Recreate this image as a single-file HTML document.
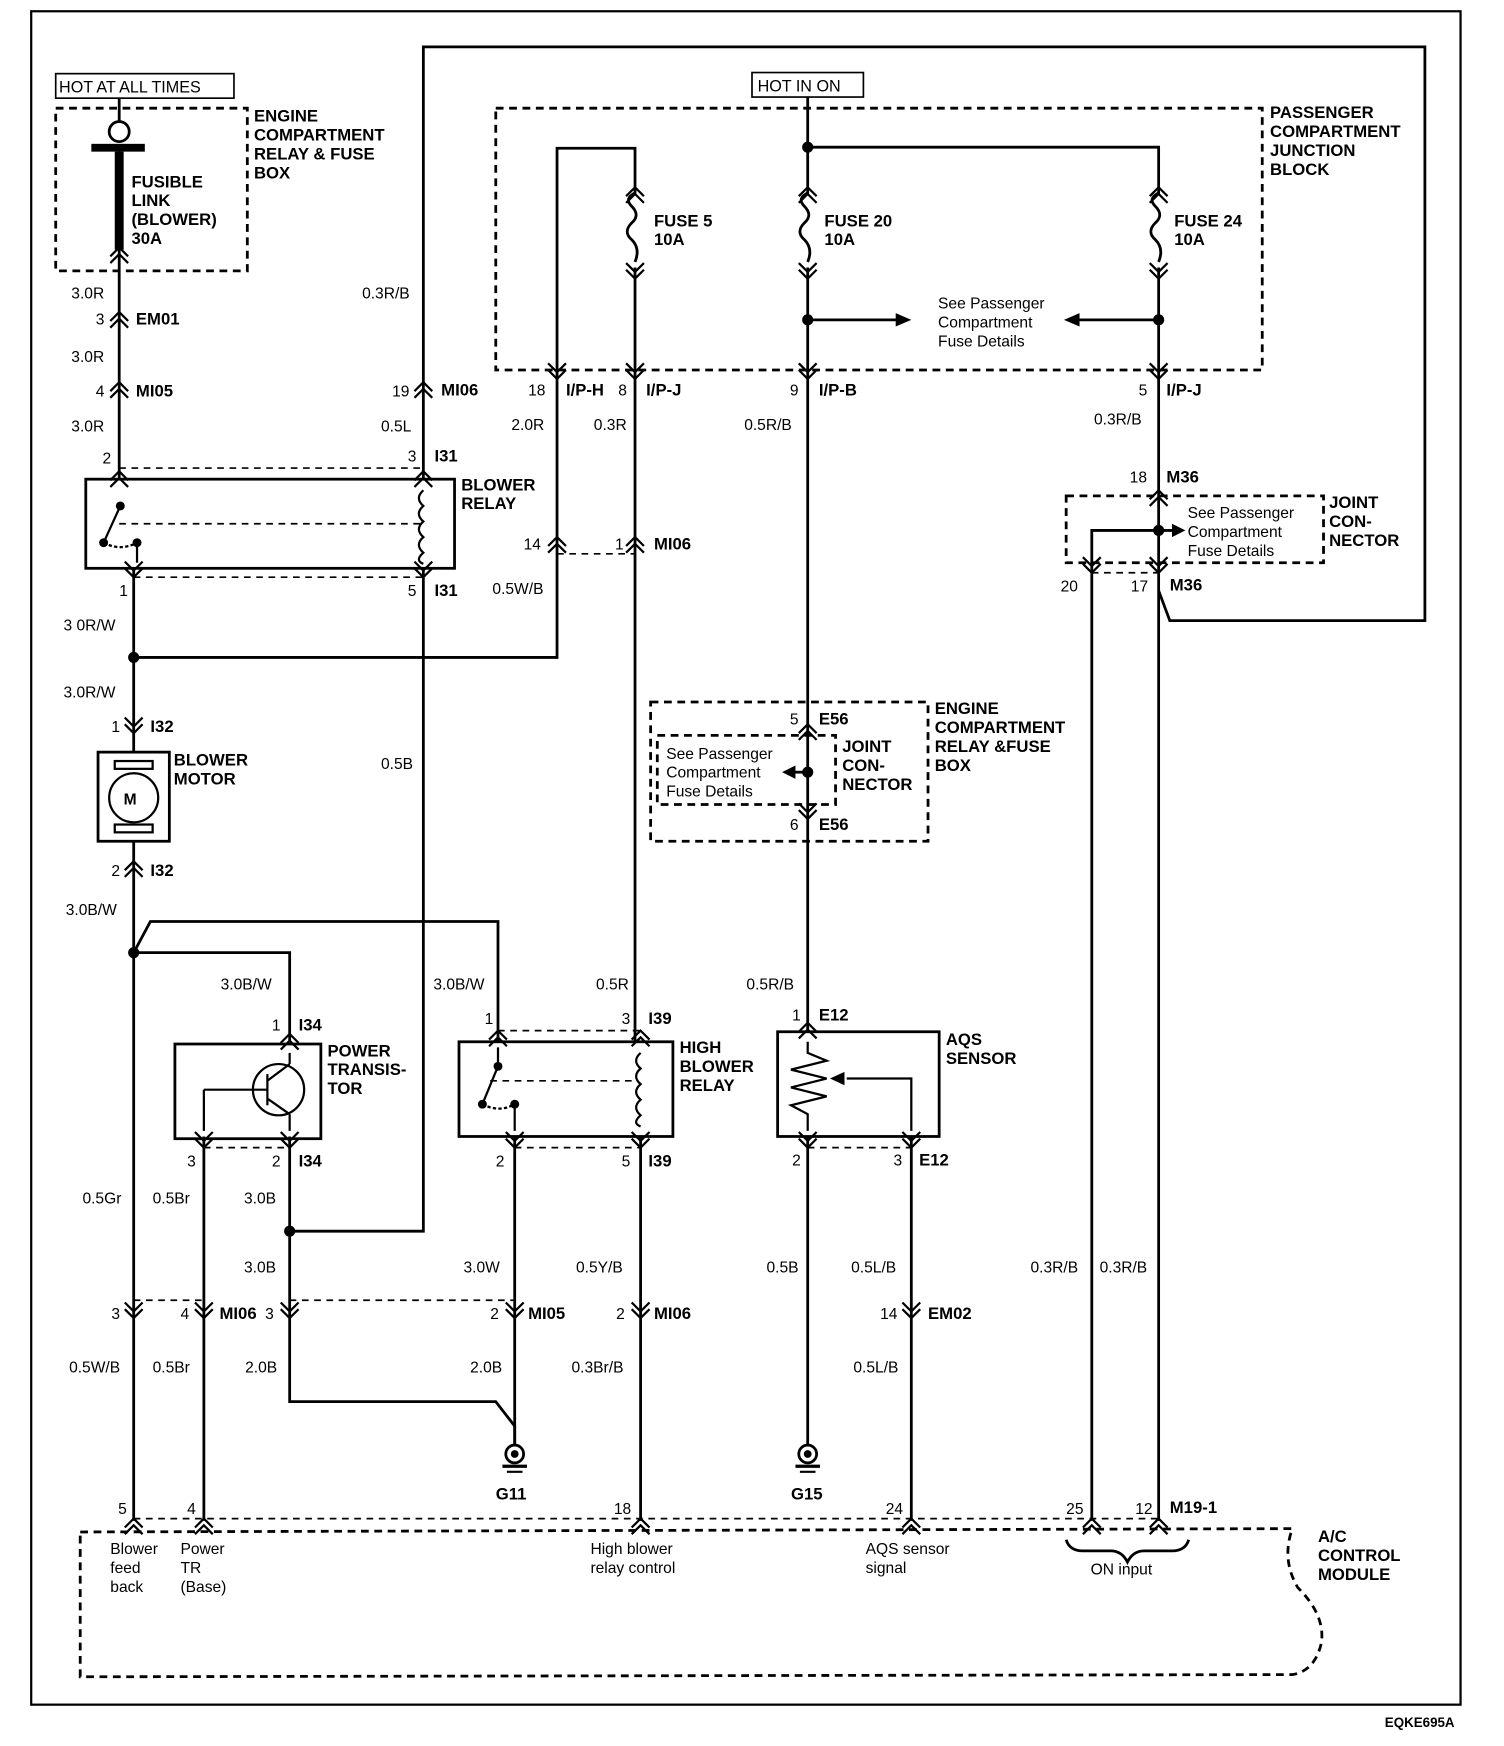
<!DOCTYPE html>
<html><head><meta charset="utf-8"><style>
html,body{margin:0;padding:0;background:#fff}
svg{display:block}
text{font-family:"Liberation Sans",Arial,sans-serif;fill:#000}
.b{font-weight:bold;font-size:15px}
.w{font-size:14px}
.s{font-size:14.5px}
</style></head><body>
<svg width="1504" height="1746" viewBox="0 0 1350 1567" xmlns="http://www.w3.org/2000/svg">
<defs>
<g id="u" fill="none" stroke="#000" stroke-width="2"><polyline points="-8,8 0,0 8,8"/><polyline points="-8,14 0,6 8,14"/></g>
<g id="d" fill="none" stroke="#000" stroke-width="2"><polyline points="-8,-8 0,0 8,-8"/><polyline points="-8,-14 0,-6 8,-14"/></g>
<g id="gnd"><circle r="8" fill="none" stroke="#000" stroke-width="2.5"/><circle r="3.5" fill="#000"/><line x1="-11" y1="11" x2="11" y2="11" stroke="#000" stroke-width="3"/><line x1="-7" y1="16" x2="7" y2="16" stroke="#000" stroke-width="2"/></g>
</defs>
<rect width="1350" height="1567" fill="#fff"/>
<g fill="none" stroke="#000" stroke-width="2">
<rect x="28" y="10" width="1283" height="1520"/>
<!-- top boxes -->
<rect x="50" y="66" width="160" height="22" stroke-width="1.5"/>
<rect x="675" y="65" width="100" height="22" stroke-width="1.5"/>
</g>
<text class="s" x="53" y="83">HOT AT ALL TIMES</text>
<text class="s" x="680" y="82">HOT IN ON</text>
<g fill="none" stroke="#000" stroke-width="2.5" stroke-dasharray="7,5">
<rect x="50" y="97" width="172" height="146"/>
<rect x="445" y="97" width="688" height="235"/>
<rect x="957" y="445" width="231" height="60"/>
<rect x="584" y="630" width="249" height="125"/>
<rect x="590" y="660" width="160" height="62"/>
<path d="M72,1375 L1160,1372 Q1150,1400 1165,1425 Q1190,1450 1186,1475 Q1180,1500 1160,1503 L72,1505 Z"/>
</g>
<!-- inner dashed links -->
<g fill="none" stroke="#000" stroke-width="1.5" stroke-dasharray="6,5">
<line x1="107" y1="420" x2="380" y2="420"/><line x1="120" y1="518" x2="380" y2="518"/>
<line x1="107" y1="470" x2="378" y2="470"/>
<line x1="500" y1="497" x2="570" y2="497"/>
<line x1="447" y1="925" x2="575" y2="925"/><line x1="462" y1="1030" x2="575" y2="1030"/>
<line x1="440" y1="970" x2="568" y2="970"/>
<line x1="183" y1="1030" x2="260" y2="1030"/><line x1="725" y1="1030" x2="818" y2="1030"/>
<line x1="120" y1="1167" x2="183" y2="1167"/><line x1="260" y1="1167" x2="462" y2="1167"/>
<line x1="120" y1="1363" x2="1040" y2="1363"/>
<line x1="980" y1="514" x2="1040" y2="514"/>
</g>
<!-- wires -->
<g fill="none" stroke="#000" stroke-width="2.5">
<line x1="107" y1="88" x2="107" y2="110"/>
<line x1="107" y1="135" x2="107" y2="430"/>
<line x1="120" y1="510" x2="120" y2="675"/>
<line x1="120" y1="755" x2="120" y2="1365"/>
<polyline points="120,590 500,590 500,133 570,133 570,175"/>
<line x1="570" y1="240" x2="570" y2="935"/>
<line x1="575" y1="1020" x2="575" y2="1365"/>
<polyline points="380,430 380,42 1279,42 1279,557 1050,557 1040,530"/>
<polyline points="380,510 380,1105 260,1105"/>
<polyline points="120,855 260,855 260,935"/>
<polyline points="120,855 135,827 447,827 447,935"/>
<polyline points="260,1020 260,1258 445,1258 462,1280 462,1298"/>
<line x1="462" y1="1020" x2="462" y2="1298"/>
<line x1="183" y1="1020" x2="183" y2="1365"/>
<line x1="725" y1="87" x2="725" y2="175"/>
<polyline points="725,132 1040,132 1040,175"/>
<line x1="725" y1="240" x2="725" y2="926"/>
<line x1="725" y1="1020" x2="725" y2="1298"/>
<line x1="1040" y1="240" x2="1040" y2="1365"/>
<line x1="818" y1="1020" x2="818" y2="1365"/>
<polyline points="1040,476 980,476 980,1365"/>
<line x1="725" y1="287" x2="805" y2="287"/><line x1="1040" y1="287" x2="968" y2="287"/>
<line x1="725" y1="693" x2="712" y2="693"/>
<line x1="1040" y1="476" x2="1060" y2="476"/>
<!-- fuses -->
<path d="M570,178 q-10,5 -3,12 q8,8 0,15 q-8,8 0,15 q8,8 3,20" transform="translate(0,-5)"/>
<path d="M725,178 q-10,5 -3,12 q8,8 0,15 q-8,8 0,15 q8,8 3,20" transform="translate(0,-5)"/>
<path d="M1040,178 q-10,5 -3,12 q8,8 0,15 q-8,8 0,15 q8,8 3,20" transform="translate(0,-5)"/>
<!-- fusible link -->
<circle cx="107" cy="118" r="9"/>
<!-- boxes -->
<rect x="77" y="430" width="331" height="80"/>
<rect x="88" y="675" width="64" height="80"/>
<rect x="157" y="937" width="131" height="85"/>
<rect x="412" y="935" width="192" height="85"/>
<rect x="698" y="926" width="145" height="94"/>
<!-- brace -->
<path d="M957,1382 q3,10 15,10 h25 q10,0 15,10 q5,-10 15,-10 h25 q12,0 15,-10"/>
</g>
<!-- arrowheads -->
<polygon points="818,287 804,281 804,293"/><polygon points="955,287 969,281 969,293"/>
<polygon points="702,693 714,687 714,699"/><polygon points="1064,476 1052,470 1052,482"/>
<!-- fusible link bar -->
<rect x="82" y="129" width="48" height="7"/>
<rect x="103" y="136" width="8" height="88"/>
<!-- dots -->
<g fill="#000"><circle cx="120" cy="590" r="5"/><circle cx="120" cy="855" r="5"/><circle cx="260" cy="1105" r="5"/>
<circle cx="725" cy="132" r="5"/><circle cx="725" cy="287" r="5"/><circle cx="1040" cy="287" r="5"/><circle cx="725" cy="693" r="5"/><circle cx="1040" cy="476" r="5"/>
<circle cx="108" cy="454" r="4"/><circle cx="93" cy="487" r="4"/><circle cx="123" cy="487" r="4"/>
<circle cx="447" cy="957" r="4"/><circle cx="433" cy="991" r="4"/><circle cx="462" cy="991" r="4"/></g>
<!-- relay internals -->
<g fill="none" stroke="#000" stroke-width="2">
<line x1="108" y1="454" x2="93" y2="487"/><path d="M93,487 q15,8 30,0" stroke-dasharray="3,2"/><line x1="123" y1="487" x2="123" y2="505"/>
<path d="M380,440 q-8,7 0,14 q-8,7 0,14 q-8,7 0,14 q-8,7 0,14 q-8,7 0,10"/>
<line x1="447" y1="940" x2="447" y2="957"/><line x1="447" y1="957" x2="433" y2="991"/><path d="M433,991 q15,8 29,0" stroke-dasharray="3,2"/><line x1="462" y1="991" x2="462" y2="1015"/>
<path d="M575,945 q-8,7 0,14 q-8,7 0,14 q-8,7 0,14 q-8,7 0,14 q-8,7 0,10"/>
<!-- motor -->
<rect x="103" y="683" width="34" height="7"/><rect x="103" y="740" width="34" height="7"/>
<circle cx="120" cy="716" r="22"/>
<!-- transistor -->
<circle cx="250" cy="978" r="23"/><line x1="240" y1="964" x2="240" y2="992"/><line x1="240" y1="978" x2="183" y2="978"/><line x1="183" y1="978" x2="183" y2="1015"/>
<line x1="240" y1="970" x2="260" y2="955"/><line x1="240" y1="986" x2="260" y2="1000"/><line x1="260" y1="945" x2="260" y2="955"/><line x1="260" y1="1000" x2="260" y2="1015"/>
<!-- AQS -->
<polyline points="725,935 725,945 742,952 710,960 742,968 710,976 742,984 710,992 725,1000 725,1015"/>
<polyline points="760,968 818,968 818,1015"/>
</g>
<polygon points="745,968 758,962 758,974"/>
<text x="111" y="722" style="font-size:14px;font-weight:bold">M</text>
<!-- grounds -->
<use href="#gnd" x="462" y="1305"/><use href="#gnd" x="725" y="1305"/>
<!-- connectors -->
<use href="#u" x="107" y="222"/><use href="#u" x="107" y="280"/><use href="#u" x="107" y="343"/><use href="#u" x="380" y="343"/>
<use href="#u" x="107" y="423"/><use href="#u" x="380" y="423"/>
<use href="#d" x="120" y="518"/><use href="#d" x="380" y="518"/>
<use href="#u" x="500" y="482"/><use href="#u" x="570" y="482"/>
<use href="#d" x="120" y="658"/><use href="#u" x="120" y="773"/>
<use href="#u" x="570" y="168"/><use href="#d" x="570" y="250"/><use href="#u" x="725" y="168"/><use href="#d" x="725" y="250"/><use href="#u" x="1040" y="168"/><use href="#d" x="1040" y="250"/>
<use href="#d" x="500" y="340"/><use href="#d" x="570" y="340"/><use href="#d" x="725" y="340"/><use href="#d" x="1040" y="340"/>
<use href="#u" x="1040" y="440"/><use href="#d" x="980" y="514"/><use href="#d" x="1040" y="514"/>
<use href="#u" x="725" y="650"/><use href="#d" x="725" y="735"/>
<use href="#u" x="260" y="928"/><use href="#u" x="447" y="925"/><use href="#u" x="575" y="925"/><use href="#u" x="725" y="918"/>
<use href="#d" x="183" y="1030"/><use href="#d" x="260" y="1030"/><use href="#d" x="462" y="1030"/><use href="#d" x="575" y="1030"/><use href="#d" x="725" y="1030"/><use href="#d" x="818" y="1030"/>
<use href="#d" x="120" y="1183"/><use href="#d" x="183" y="1183"/><use href="#d" x="260" y="1183"/><use href="#d" x="462" y="1183"/><use href="#d" x="575" y="1183"/><use href="#d" x="818" y="1183"/>
<use href="#u" x="120" y="1363"/><use href="#u" x="183" y="1363"/><use href="#u" x="575" y="1363"/><use href="#u" x="818" y="1363"/><use href="#u" x="980" y="1363"/><use href="#u" x="1040" y="1363"/>
<!-- labels bold -->
<g class="b">
<text x="228" y="109">ENGINE</text><text x="228" y="126">COMPARTMENT</text><text x="228" y="143">RELAY &amp; FUSE</text><text x="228" y="160">BOX</text>
<text x="118" y="168">FUSIBLE</text><text x="118" y="185">LINK</text><text x="118" y="202">(BLOWER)</text><text x="118" y="219">30A</text>
<text x="1140" y="106">PASSENGER</text><text x="1140" y="123">COMPARTMENT</text><text x="1140" y="140">JUNCTION</text><text x="1140" y="157">BLOCK</text>
<text x="587" y="203">FUSE 5</text><text x="587" y="220">10A</text><text x="740" y="203">FUSE 20</text><text x="740" y="220">10A</text><text x="1054" y="203">FUSE 24</text><text x="1054" y="220">10A</text>
<text x="122" y="291">EM01</text><text x="122" y="356">MI05</text><text x="396" y="355">MI06</text>
<text x="508" y="355">I/P-H</text><text x="580" y="355">I/P-J</text><text x="735" y="355">I/P-B</text><text x="1047" y="355">I/P-J</text>
<text x="390" y="414">I31</text><text x="390" y="535">I31</text><text x="587" y="493">MI06</text>
<text x="414" y="440">BLOWER</text><text x="414" y="457">RELAY</text>
<text x="1047" y="433">M36</text><text x="1050" y="530">M36</text>
<text x="1193" y="456">JOINT</text><text x="1193" y="473">CON-</text><text x="1193" y="490">NECTOR</text>
<text x="135" y="657">I32</text><text x="135" y="786">I32</text>
<text x="156" y="687">BLOWER</text><text x="156" y="704">MOTOR</text>
<text x="735" y="650">E56</text><text x="735" y="745">E56</text>
<text x="756" y="675">JOINT</text><text x="756" y="692">CON-</text><text x="756" y="709">NECTOR</text>
<text x="839" y="641">ENGINE</text><text x="839" y="658">COMPARTMENT</text><text x="839" y="675">RELAY &amp;FUSE</text><text x="839" y="692">BOX</text>
<text x="268" y="925">I34</text><text x="268" y="1047">I34</text><text x="582" y="919">I39</text><text x="582" y="1047">I39</text><text x="735" y="916">E12</text><text x="825" y="1046">E12</text>
<text x="294" y="948">POWER</text><text x="294" y="965">TRANSIS-</text><text x="294" y="982">TOR</text>
<text x="610" y="945">HIGH</text><text x="610" y="962">BLOWER</text><text x="610" y="979">RELAY</text>
<text x="849" y="938">AQS</text><text x="849" y="955">SENSOR</text>
<text x="197" y="1184">MI06</text><text x="474" y="1184">MI05</text><text x="587" y="1184">MI06</text><text x="833" y="1184">EM02</text>
<text x="445" y="1346">G11</text><text x="710" y="1346">G15</text>
<text x="1050" y="1358">M19-1</text>
<text x="1183" y="1384">A/C</text><text x="1183" y="1401">CONTROL</text><text x="1183" y="1418">MODULE</text>
</g>
<!-- plain labels -->
<g class="w">
<text x="64" y="268">3.0R</text><text x="325" y="268">0.3R/B</text>
<text x="86" y="291">3</text><text x="64" y="325">3.0R</text><text x="86" y="356">4</text><text x="352" y="356">19</text>
<text x="64" y="387">3.0R</text><text x="342" y="387">0.5L</text>
<text x="92" y="416">2</text><text x="366" y="414">3</text><text x="107" y="535">1</text><text x="366" y="535">5</text>
<text x="474" y="355">18</text><text x="555" y="355">8</text><text x="709" y="355">9</text><text x="1022" y="355">5</text>
<text x="459" y="386">2.0R</text><text x="533" y="386">0.3R</text><text x="668" y="386">0.5R/B</text><text x="982" y="381">0.3R/B</text>
<text x="1014" y="433">18</text><text x="470" y="493">14</text><text x="552" y="493">1</text><text x="442" y="533">0.5W/B</text>
<text x="952" y="531">20</text><text x="1015" y="531">17</text>
<text x="57" y="566">3 0R/W</text><text x="57" y="626">3.0R/W</text><text x="100" y="657">1</text><text x="342" y="690">0.5B</text>
<text x="100" y="786">2</text><text x="59" y="821">3.0B/W</text>
<text x="709" y="650">5</text><text x="709" y="745">6</text>
<text x="198" y="888">3.0B/W</text><text x="389" y="888">3.0B/W</text><text x="535" y="888">0.5R</text><text x="670" y="888">0.5R/B</text>
<text x="244" y="925">1</text><text x="435" y="919">1</text><text x="558" y="919">3</text><text x="711" y="916">1</text>
<text x="168" y="1047">3</text><text x="244" y="1047">2</text><text x="445" y="1047">2</text><text x="558" y="1047">5</text><text x="711" y="1046">2</text><text x="802" y="1046">3</text>
<text x="74" y="1080">0.5Gr</text><text x="137" y="1080">0.5Br</text><text x="219" y="1080">3.0B</text>
<text x="219" y="1142">3.0B</text><text x="416" y="1142">3.0W</text><text x="517" y="1142">0.5Y/B</text><text x="688" y="1142">0.5B</text><text x="764" y="1142">0.5L/B</text><text x="925" y="1142">0.3R/B</text><text x="987" y="1142">0.3R/B</text>
<text x="100" y="1184">3</text><text x="162" y="1184">4</text><text x="238" y="1184">3</text><text x="440" y="1184">2</text><text x="553" y="1184">2</text><text x="790" y="1184">14</text>
<text x="62" y="1232">0.5W/B</text><text x="137" y="1232">0.5Br</text><text x="220" y="1232">2.0B</text><text x="422" y="1232">2.0B</text><text x="513" y="1232">0.3Br/B</text><text x="766" y="1232">0.5L/B</text>
<text x="106" y="1359">5</text><text x="168" y="1359">4</text><text x="551" y="1359">18</text><text x="795" y="1359">24</text><text x="957" y="1359">25</text><text x="1019" y="1359">12</text>
<text x="99" y="1395">Blower</text><text x="99" y="1412">feed</text><text x="99" y="1429">back</text>
<text x="162" y="1395">Power</text><text x="162" y="1412">TR</text><text x="162" y="1429">(Base)</text>
<text x="530" y="1395">High blower</text><text x="530" y="1412">relay control</text>
<text x="777" y="1395">AQS sensor</text><text x="777" y="1412">signal</text>
<text x="979" y="1413">ON input</text>
<text x="842" y="277">See Passenger</text><text x="842" y="294">Compartment</text><text x="842" y="311">Fuse Details</text>
<text x="1066" y="465">See Passenger</text><text x="1066" y="482">Compartment</text><text x="1066" y="499">Fuse Details</text>
<text x="598" y="681">See Passenger</text><text x="598" y="698">Compartment</text><text x="598" y="715">Fuse Details</text>
<text x="1243" y="1550" style="font-size:12px;font-weight:bold">EQKE695A</text>
</g>
</svg>
</body></html>
